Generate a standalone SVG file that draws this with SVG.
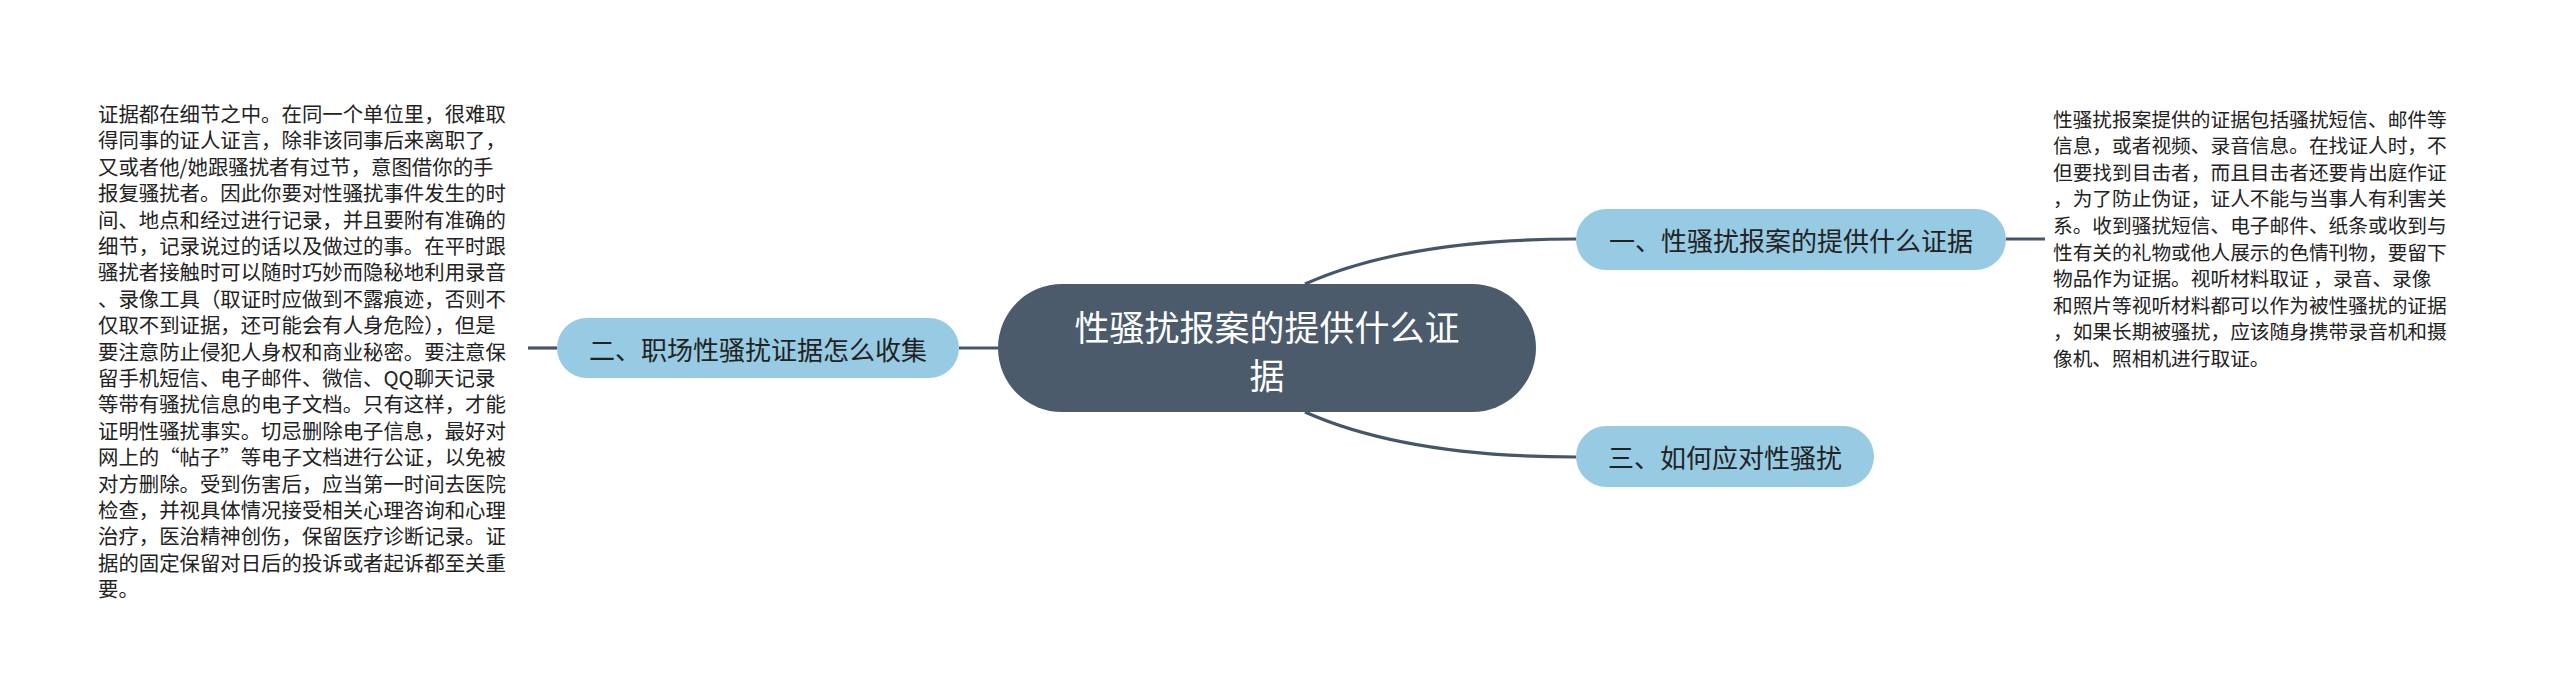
<svg xmlns="http://www.w3.org/2000/svg" width="2560" height="696" viewBox="0 0 2560 696">
<style>
.bg{fill:#ffffff}
.conn{fill:none;stroke:#46566a;stroke-width:3.2;stroke-linecap:butt}
.root{fill:#4b5b6b}
.branch{fill:#97cbe3}
.t{font-family:"Noto Sans CJK SC","Noto Sans",sans-serif;dominant-baseline:central}
.rt{fill:#ffffff;font-size:35px;text-anchor:middle}
.bt{fill:#222222;font-size:26px;text-anchor:middle}
.lt{fill:#222222;font-size:20.4px}
.rtx{fill:#222222;font-size:19.7px}
</style>
<rect class="bg" x="0" y="0" width="2560" height="696"/>
<g id="connectors">
<path class="conn" d="M1305,284 C1370,255 1460,239 1576,239"/>
<path class="conn" d="M1305,412 C1370,441 1460,457 1576,457"/>
<path class="conn" d="M959,348 L998,348"/>
<path class="conn" d="M528,348 L557,348"/>
<path class="conn" d="M2006,239 L2045,239"/>
</g>
<g id="root">
<rect class="root" x="998" y="284" width="538" height="128" rx="64"/>
<text class="t rt" x="1267" y="325">性骚扰报案的提供什么证</text>
<text class="t rt" x="1267" y="373">据</text>
</g>
<g id="node1">
<rect class="branch" x="1576" y="209" width="430" height="61" rx="30.5"/>
<text class="t bt" x="1791" y="239">一、性骚扰报案的提供什么证据</text>
</g>
<g id="node2">
<rect class="branch" x="557" y="318" width="402" height="60" rx="30"/>
<text class="t bt" x="758" y="348">二、职场性骚扰证据怎么收集</text>
</g>
<g id="node3">
<rect class="branch" x="1576" y="426" width="298" height="61" rx="30.5"/>
<text class="t bt" x="1725" y="456">三、如何应对性骚扰</text>
</g>
<g id="note2">
<text class="t lt" x="98" y="113">证据都在细节之中。在同一个单位里，很难取</text>
<text class="t lt" x="98" y="139.4">得同事的证人证言，除非该同事后来离职了，</text>
<text class="t lt" x="98" y="165.8">又或者他/她跟骚扰者有过节，意图借你的手</text>
<text class="t lt" x="98" y="192.2">报复骚扰者。因此你要对性骚扰事件发生的时</text>
<text class="t lt" x="98" y="218.6">间、地点和经过进行记录，并且要附有准确的</text>
<text class="t lt" x="98" y="245">细节，记录说过的话以及做过的事。在平时跟</text>
<text class="t lt" x="98" y="271.4">骚扰者接触时可以随时巧妙而隐秘地利用录音</text>
<text class="t lt" x="98" y="297.8">、录像工具（取证时应做到不露痕迹，否则不</text>
<text class="t lt" x="98" y="324.2">仅取不到证据，还可能会有人身危险），但是</text>
<text class="t lt" x="98" y="350.6">要注意防止侵犯人身权和商业秘密。要注意保</text>
<text class="t lt" x="98" y="377">留手机短信、电子邮件、微信、QQ聊天记录</text>
<text class="t lt" x="98" y="403.4">等带有骚扰信息的电子文档。只有这样，才能</text>
<text class="t lt" x="98" y="429.8">证明性骚扰事实。切忌删除电子信息，最好对</text>
<text class="t lt" x="98" y="456.2">网上的“帖子”等电子文档进行公证，以免被</text>
<text class="t lt" x="98" y="482.6">对方删除。受到伤害后，应当第一时间去医院</text>
<text class="t lt" x="98" y="509">检查，并视具体情况接受相关心理咨询和心理</text>
<text class="t lt" x="98" y="535.4">治疗，医治精神创伤，保留医疗诊断记录。证</text>
<text class="t lt" x="98" y="561.8">据的固定保留对日后的投诉或者起诉都至关重</text>
<text class="t lt" x="98" y="588.2">要。</text>
</g>
<g id="note1">
<text class="t rtx" x="2053" y="118">性骚扰报案提供的证据包括骚扰短信、邮件等</text>
<text class="t rtx" x="2053" y="144.6">信息，或者视频、录音信息。在找证人时，不</text>
<text class="t rtx" x="2053" y="171.2">但要找到目击者，而且目击者还要肯出庭作证</text>
<text class="t rtx" x="2053" y="197.8">，为了防止伪证，证人不能与当事人有利害关</text>
<text class="t rtx" x="2053" y="224.4">系。收到骚扰短信、电子邮件、纸条或收到与</text>
<text class="t rtx" x="2053" y="251">性有关的礼物或他人展示的色情刊物，要留下</text>
<text class="t rtx" x="2053" y="277.6">物品作为证据。视听材料取证 ，录音、录像</text>
<text class="t rtx" x="2053" y="304.2">和照片等视听材料都可以作为被性骚扰的证据</text>
<text class="t rtx" x="2053" y="330.8">，如果长期被骚扰，应该随身携带录音机和摄</text>
<text class="t rtx" x="2053" y="357.4">像机、照相机进行取证。</text>
</g>
</svg>
